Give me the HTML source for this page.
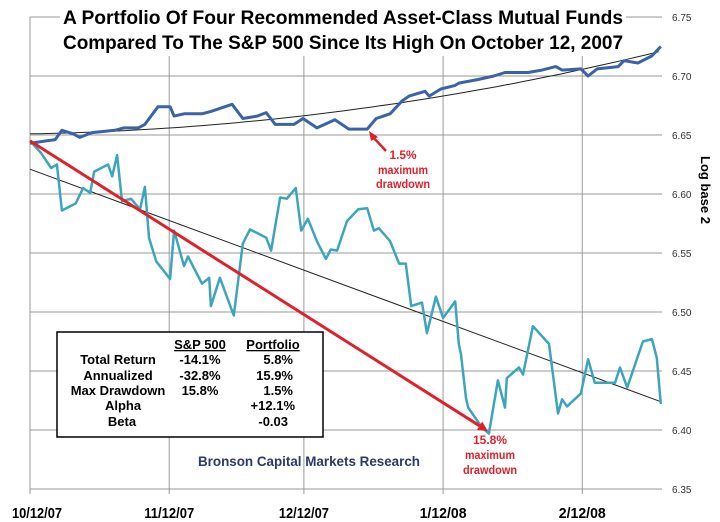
<!DOCTYPE html>
<html><head><meta charset="utf-8"><style>
html,body{margin:0;padding:0;background:#fff;}
svg{display:block;font-family:"Liberation Sans Narrow","Liberation Sans",sans-serif;}
</style></head><body>
<svg id="chart" width="720" height="522" viewBox="0 0 720 522" xmlns="http://www.w3.org/2000/svg">
<g id="grid"></g>
<g id="yticks"></g>
<g id="xticks"></g>
<g id="series"></g>
<rect x="60" y="2" width="566" height="54" fill="#fff"/>
<text x="343" y="24" text-anchor="middle" font-size="19" font-weight="bold" textLength="560" lengthAdjust="spacingAndGlyphs">A Portfolio Of Four Recommended Asset-Class Mutual Funds</text>
<text x="343" y="49" text-anchor="middle" font-size="19" font-weight="bold" textLength="560" lengthAdjust="spacingAndGlyphs">Compared To The S&amp;P 500 Since Its High On October 12, 2007</text>
<text transform="translate(701,190) rotate(90)" text-anchor="middle" font-size="13" font-weight="bold" font-family="Liberation Sans, sans-serif">Log base 2</text>
<g fill="#e0202a" font-size="12" font-weight="bold" text-anchor="middle">
<line x1="386" y1="151" x2="372" y2="136" stroke="#e0202a" stroke-width="2.5"/>
<polygon points="369,131 378,137 371,141" fill="#e0202a"/>
<text x="403" y="159" textLength="27" lengthAdjust="spacingAndGlyphs">1.5%</text><text x="403" y="174" textLength="50" lengthAdjust="spacingAndGlyphs">maximum</text><text x="403" y="188" textLength="54" lengthAdjust="spacingAndGlyphs">drawdown</text>
</g>
<g fill="#e0202a" font-size="12" font-weight="bold" text-anchor="middle">
<text x="490" y="444" textLength="34" lengthAdjust="spacingAndGlyphs">15.8%</text><text x="490" y="459" textLength="50" lengthAdjust="spacingAndGlyphs">maximum</text><text x="490" y="474" textLength="54" lengthAdjust="spacingAndGlyphs">drawdown</text>
</g>
<g font-size="13" font-weight="bold" fill="#000">
<rect x="57" y="332" width="266" height="105" fill="#fff" stroke="#000" stroke-width="1.5"/>
<text x="200" y="349" text-anchor="middle" text-decoration="underline">S&amp;P 500</text>
<text x="273" y="349" text-anchor="middle" text-decoration="underline">Portfolio</text>
<text x="118" y="364" text-anchor="middle">Total Return</text><text x="200" y="364" text-anchor="middle">-14.1%</text><text x="293" y="364" text-anchor="end">5.8%</text>
<text x="118" y="380" text-anchor="middle">Annualized</text><text x="200" y="380" text-anchor="middle">-32.8%</text><text x="293" y="380" text-anchor="end">15.9%</text>
<text x="118" y="395" text-anchor="middle">Max Drawdown</text><text x="200" y="395" text-anchor="middle">15.8%</text><text x="293" y="395" text-anchor="end">1.5%</text>
<text x="123" y="410" text-anchor="middle">Alpha</text><text x="295" y="410" text-anchor="end">+12.1%</text>
<text x="122" y="426" text-anchor="middle">Beta</text><text x="288" y="426" text-anchor="end">-0.03</text>
</g>
<text x="309" y="466" text-anchor="middle" font-size="14" font-weight="bold" fill="#2b3a6b" textLength="222" lengthAdjust="spacingAndGlyphs">Bronson Capital Markets Research</text>
</svg>
<script>
const tickValues=[6.35,6.40,6.45,6.50,6.55,6.60,6.65,6.70,6.75];
const tickDays=[0,31,61,92,123];
const tickLabels=["10/12/07","11/12/07","12/12/07","1/12/08","2/12/08"];
const portDays=[0,3.6,5.6,7.1,9.6,11.1,13.8,18.9,20.9,24.1,25.6,28.5,31.2,32.1,34.3,38.3,40.3,45,47.4,50.6,52.6,54.6,58.8,60.8,63.9,67.9,71,75.1,77.1,80.2,82.9,84.4,88,88.9,91.5,94.7,95.5,99.8,103.3,105.8,110.9,114,117.1,118.5,122.7,124.3,126.3,131,132.3,135.4,138.5,140.5];
const portValues=[6.643,6.645,6.646,6.654,6.651,6.648,6.652,6.654,6.656,6.656,6.659,6.674,6.674,6.666,6.668,6.668,6.670,6.676,6.664,6.666,6.669,6.659,6.659,6.664,6.656,6.663,6.655,6.655,6.664,6.668,6.679,6.683,6.687,6.683,6.689,6.692,6.694,6.697,6.700,6.703,6.703,6.705,6.708,6.705,6.706,6.700,6.706,6.708,6.713,6.711,6.717,6.725];
const spDays=[0,2.4,4.7,6,7.1,10.2,11.8,13.4,14.3,17.4,18.3,19.4,20.5,22.5,24.5,25.6,26.5,28.1,31.2,32.1,34.3,35.2,38.3,39.9,40.3,42.3,45.4,47.4,49,52.6,53.7,55.7,57.2,59.2,60.4,61.9,63.9,65.9,67,68.4,70.6,73.1,75.1,76.6,77.7,80.2,82.2,83.7,84.9,87.3,88.4,90.4,92,94.7,95.5,96,97.1,97.6,100.7,102.2,104.2,105.8,106.2,108.9,109.8,112,115.6,117.6,118.5,119.6,122.7,124.3,125.8,130.3,131.4,133,136.5,138.5,139.6,140.5];
const spValues=[6.645,6.635,6.622,6.625,6.586,6.592,6.605,6.601,6.619,6.625,6.615,6.633,6.594,6.596,6.587,6.606,6.563,6.543,6.528,6.569,6.539,6.547,6.524,6.529,6.505,6.529,6.497,6.558,6.570,6.563,6.552,6.597,6.596,6.605,6.569,6.579,6.560,6.545,6.553,6.552,6.577,6.587,6.588,6.569,6.571,6.560,6.541,6.541,6.505,6.508,6.482,6.513,6.495,6.509,6.473,6.464,6.427,6.419,6.402,6.397,6.442,6.419,6.444,6.453,6.447,6.488,6.473,6.414,6.426,6.420,6.431,6.460,6.440,6.440,6.453,6.436,6.475,6.477,6.461,6.422];
const spTrendDays=[0,140.5];
const spTrendValues=[6.621,6.424];
const portTrendDays=[0,72.8,140.5];
const portTrendValues=[6.651,6.672,6.721];
const drawdownDays=[0,102];
const drawdownValues=[6.645,6.399];

const X=d=>30+d*4.49;
const Y=v=>489-(v-6.35)*1180;
const NS="http://www.w3.org/2000/svg";
function mk(parent,tag,attrs){const e=document.createElementNS(NS,tag);for(const k in attrs)e.setAttribute(k,attrs[k]);parent.appendChild(e);return e;}
const grid=document.getElementById('grid'),yt=document.getElementById('yticks'),xt=document.getElementById('xticks'),ser=document.getElementById('series');
tickValues.forEach(v=>{
  const l=mk(grid,'line',{x1:30,x2:662,y1:Y(v),y2:Y(v),stroke:'#9a9a9a','stroke-width':1});
  
  
  const t=mk(yt,'text',{x:672,y:Y(v)+4,'font-size':10,fill:'#333'});
  t.textContent=v.toFixed(2);
  
  
});
tickDays.forEach((d,i)=>{
  const l=mk(grid,'line',{x1:X(d),x2:X(d),y1:Y(6.75),y2:Y(6.35)+5,stroke:'#9a9a9a','stroke-width':1});
  
  
  const t=mk(xt,'text',{x:X(d)+(i==0?7:0),y:518,'font-size':15,'font-weight':'bold','text-anchor':'middle',textLength:tickLabels[i].length>7?50:47,lengthAdjust:'spacingAndGlyphs'});
  t.textContent=tickLabels[i];
  
  
});
function pts(ds,vs){return ds.map((d,i)=>X(d).toFixed(1)+','+Y(vs[i]).toFixed(1)).join(' ');}
const tp=[];
for(let d=0;d<=140.5;d+=2){let s=0;for(let i=0;i<3;i++){let p=portTrendValues[i];for(let j=0;j<3;j++)if(j!=i)p*=(d-portTrendDays[j])/(portTrendDays[i]-portTrendDays[j]);s+=p;}tp.push(X(d).toFixed(1)+','+Y(s).toFixed(1));}
const pt=mk(ser,'polyline',{points:tp.join(' '),fill:'none',stroke:'#222','stroke-width':1});


const st=mk(ser,'polyline',{points:pts(spTrendDays,spTrendValues),fill:'none',stroke:'#222','stroke-width':1});


const sl=mk(ser,'polyline',{points:pts(spDays,spValues),fill:'none',stroke:'#3da5bb','stroke-width':2.5,'stroke-linejoin':'round'});


const pl=mk(ser,'polyline',{points:pts(portDays,portValues),fill:'none',stroke:'#3b63a6','stroke-width':3,'stroke-linejoin':'round'});


const x1=X(drawdownDays[0]),y1=Y(drawdownValues[0]),x2=X(drawdownDays[1]),y2=Y(drawdownValues[1]);
const ang=Math.atan2(y2-y1,x2-x1);
const bx=x2-10*Math.cos(ang),by=y2-10*Math.sin(ang);
const dl=mk(ser,'line',{x1:x1,y1:y1,x2:bx,y2:by,stroke:'#e0202a','stroke-width':3});


const px=-Math.sin(ang)*5,py=Math.cos(ang)*5;
const ah=mk(ser,'polygon',{points:`${x2},${y2} ${bx+px},${by+py} ${bx-px},${by-py}`,fill:'#e0202a'});


</script>
</body></html>
